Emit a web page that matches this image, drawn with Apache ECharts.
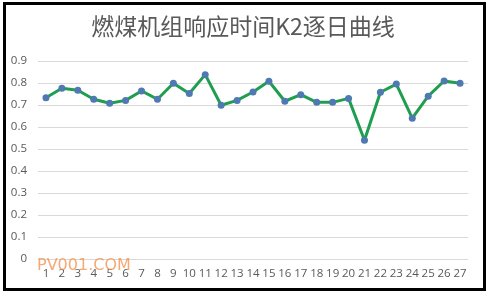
<!DOCTYPE html>
<html>
<head>
<meta charset="utf-8">
<script src="https://cdn.jsdelivr.net/npm/echarts@6/dist/echarts.min.js"></script>
<style>
html,body{margin:0;padding:0;background:#fff;}
#c{width:486px;height:293px;}
</style>
</head>
<body>
<div id="c"></div>
<script>
const titleText = '燃煤机组响应时间K2逐日曲线';
const categories = ['1','2','3','4','5','6','7','8','9','10','11','12','13','14','15','16','17','18','19','20','21','22','23','24','25','26','27'];
const k2Values = [0.733,0.776,0.767,0.726,0.708,0.721,0.764,0.726,0.799,0.752,0.838,0.699,0.721,0.759,0.808,0.717,0.747,0.712,0.712,0.730,0.540,0.758,0.795,0.640,0.740,0.809,0.799];
const yMin = 0, yMax = 0.9, yStep = 0.1;
const watermark = 'PV001.COM';

const chart = echarts.init(document.getElementById('c'), null, {renderer:'canvas'});
chart.setOption({
  animation:false,
  backgroundColor:'#fff',
  title:{
    text:titleText, left:'center', top:10,
    textStyle:{fontFamily:'Noto Sans CJK SC', fontSize:23, fontWeight:'normal', color:'#595959'}
  },
  grid:{left:38, right:18, top:61, bottom:34},
  xAxis:{
    type:'category', data:categories, boundaryGap:true,
    axisLine:{show:false}, axisTick:{show:false},
    axisLabel:{color:'#595959', fontSize:11.5, fontFamily:'Open Sans', margin:9, interval:0}
  },
  yAxis:{
    type:'value', min:yMin, max:yMax, interval:yStep,
    axisLine:{show:false}, axisTick:{show:false},
    axisLabel:{color:'#595959', fontSize:11.5, fontFamily:'Open Sans', margin:11,
      formatter:v=>v===0?'0':v.toFixed(1)},
    splitLine:{lineStyle:{color:'#d9d9d9', width:1}}
  },
  series:[{
    type:'line', data:k2Values,
    symbol:'circle', symbolSize:7,
    lineStyle:{color:'#1f9e50', width:3},
    itemStyle:{color:'#4e79b1'}
  }],
  graphic:[
    {type:'rect', left:2, top:1, shape:{x:0,y:0,width:480,height:286},
     style:{fill:'none', stroke:'#000', lineWidth:3}, z:100},
    {type:'text', left:37, top:258,
     style:{text:watermark, fill:'rgba(243,140,70,0.75)', font:'16px "DejaVu Sans"'}, z:100}
  ]
});
</script>
</body>
</html>
